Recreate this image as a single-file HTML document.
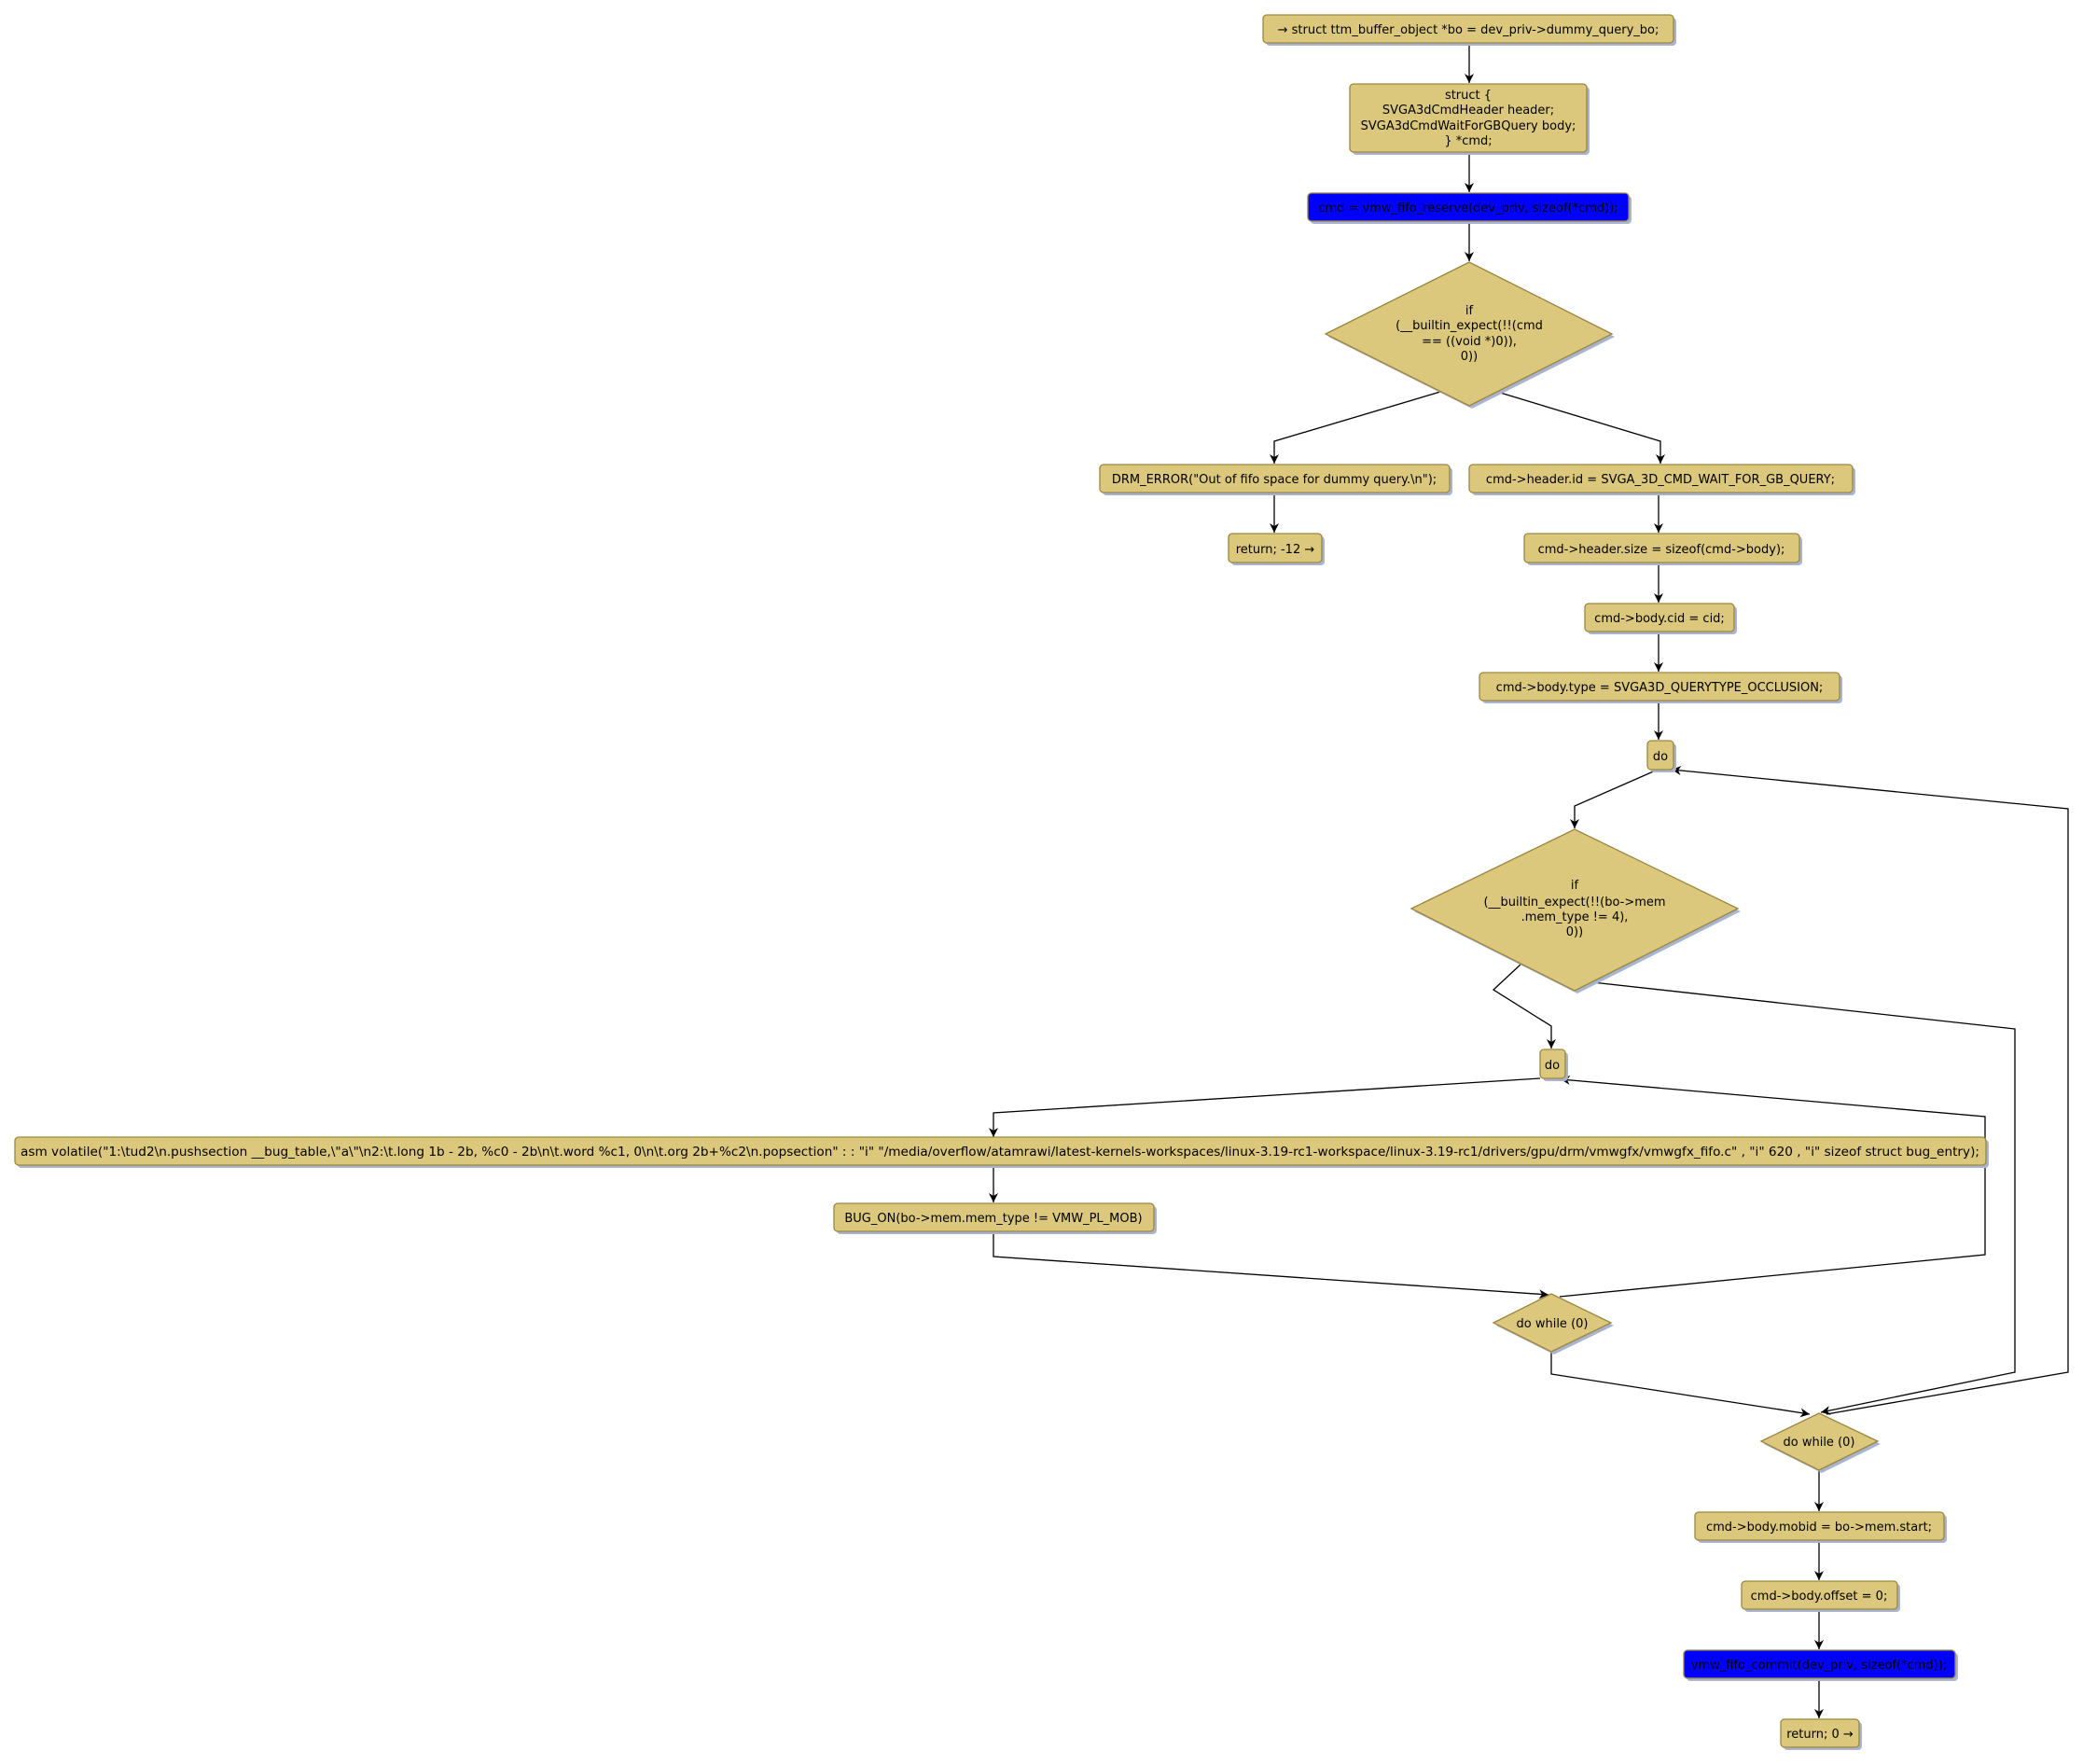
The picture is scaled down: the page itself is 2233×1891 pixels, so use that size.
<!DOCTYPE html>
<html><head><meta charset="utf-8"><style>
html,body{margin:0;padding:0;background:#fff;}
svg{display:block;}
text{font-family:"DejaVu Sans","Liberation Sans",sans-serif;font-size:13px;fill:#000;}
</style></head><body>
<svg width="2233" height="1891" viewBox="0 0 2233 1891" xmlns="http://www.w3.org/2000/svg">
<defs>
<marker id="a" markerWidth="12" markerHeight="12" refX="10" refY="5" orient="auto" markerUnits="userSpaceOnUse">
<path d="M0,0 L10,5 L0,10 L3,5 z" fill="#000"/>
</marker>
</defs>
<g fill="none" stroke="#000" stroke-width="1.3">
<path d="M1575,46 V89" marker-end="url(#a)"/>
<path d="M1575,164 V206" marker-end="url(#a)"/>
<path d="M1575,238 V280" marker-end="url(#a)"/>
<path d="M1544,420 L1366,473 V497" marker-end="url(#a)"/>
<path d="M1605,420 L1780,473 V497" marker-end="url(#a)"/>
<path d="M1366,528 V571" marker-end="url(#a)"/>
<path d="M1778,528 V571" marker-end="url(#a)"/>
<path d="M1778,603 V646" marker-end="url(#a)"/>
<path d="M1778,677 V720" marker-end="url(#a)"/>
<path d="M1778,751 V793" marker-end="url(#a)"/>
<path d="M1777,825 L1688,864 V888" marker-end="url(#a)"/>
<path d="M1958,1516 L2217,1471 V867 L1792,825" marker-end="url(#a)"/>
<path d="M1630,1034 L1601,1061 L1663,1100 V1124" marker-end="url(#a)"/>
<path d="M1707,1053 L2160,1103 V1471 L1952,1514" marker-end="url(#a)"/>
<path d="M1651,1156 L1065,1193 V1219" marker-end="url(#a)"/>
<path d="M1065,1249 V1289" marker-end="url(#a)"/>
<path d="M1065,1320 V1347 L1660,1388" marker-end="url(#a)"/>
<path d="M1672,1390 L2128,1345 V1197 L1673,1157" marker-end="url(#a)"/>
<path d="M1663,1449 V1473 L1940,1516" marker-end="url(#a)"/>
<path d="M1950,1576 V1620" marker-end="url(#a)"/>
<path d="M1950,1651 V1694" marker-end="url(#a)"/>
<path d="M1950,1725 V1768" marker-end="url(#a)"/>
<path d="M1950,1799 V1842" marker-end="url(#a)"/>
</g>
<g stroke="#9a8640" stroke-width="1.3">
<g fill="#a8b4d0" stroke="none">
<rect x="1357" y="19" width="440" height="30" rx="4"/>
<rect x="1450" y="93" width="254" height="73" rx="4"/>
<rect x="1405" y="210" width="344" height="30" rx="4"/>
<polygon points="1424,361 1578,284 1731,361 1578,438"/>
<rect x="1182" y="501" width="375" height="30" rx="4"/>
<rect x="1578" y="501" width="411" height="30" rx="4"/>
<rect x="1320" y="575" width="100" height="31" rx="4"/>
<rect x="1637" y="575" width="295" height="31" rx="4"/>
<rect x="1702" y="650" width="160" height="30" rx="4"/>
<rect x="1589" y="724" width="386" height="30" rx="4"/>
<rect x="1769" y="797" width="28" height="31" rx="4"/>
<polygon points="1516,977 1691,892 1866,977 1691,1065"/>
<rect x="1654" y="1128" width="27" height="31" rx="4"/>
<rect x="19" y="1222" width="2113" height="30" rx="4"/>
<rect x="897" y="1293" width="343" height="30" rx="4"/>
<polygon points="1604,1421 1666,1390 1730,1421 1666,1452"/>
<polygon points="1891,1548 1953,1518 2016,1548 1953,1579"/>
<rect x="1820" y="1624" width="267" height="30" rx="4"/>
<rect x="1870" y="1698" width="167" height="30" rx="4"/>
<rect x="1808" y="1772" width="291" height="30" rx="4"/>
<rect x="1912" y="1846" width="84" height="30" rx="4"/>
</g>
<g fill="#dcc87c">
<rect x="1354" y="16" width="440" height="30" rx="4"/>
<rect x="1447" y="90" width="254" height="73" rx="4"/>
<rect x="1402" y="207" width="344" height="30" rx="4" fill="#0000ff"/>
<polygon points="1421,358 1575,281 1728,358 1575,435"/>
<rect x="1179" y="498" width="375" height="30" rx="4"/>
<rect x="1575" y="498" width="411" height="30" rx="4"/>
<rect x="1317" y="572" width="100" height="31" rx="4"/>
<rect x="1634" y="572" width="295" height="31" rx="4"/>
<rect x="1699" y="647" width="160" height="30" rx="4"/>
<rect x="1586" y="721" width="386" height="30" rx="4"/>
<rect x="1766" y="794" width="28" height="31" rx="4"/>
<polygon points="1513,974 1688,889 1863,974 1688,1062"/>
<rect x="1651" y="1125" width="27" height="31" rx="4"/>
<rect x="16" y="1219" width="2113" height="30" rx="4"/>
<rect x="894" y="1290" width="343" height="30" rx="4"/>
<polygon points="1601,1418 1663,1387 1727,1418 1663,1449"/>
<polygon points="1888,1545 1950,1515 2013,1545 1950,1576"/>
<rect x="1817" y="1621" width="267" height="30" rx="4"/>
<rect x="1867" y="1695" width="167" height="30" rx="4"/>
<rect x="1805" y="1769" width="291" height="30" rx="4" fill="#0000ff"/>
<rect x="1909" y="1843" width="84" height="30" rx="4"/>
</g>
</g>
<g text-anchor="middle">
<text x="1574" y="36">→ struct ttm_buffer_object *bo = dev_priv-&gt;dummy_query_bo;</text>
<text x="1574" y="106">struct {</text>
<text x="1574" y="122">SVGA3dCmdHeader header;</text>
<text x="1574" y="139">SVGA3dCmdWaitForGBQuery body;</text>
<text x="1574" y="155">} *cmd;</text>
<text x="1574" y="227">cmd = vmw_fifo_reserve(dev_priv, sizeof(*cmd));</text>
<text x="1575" y="337">if</text>
<text x="1575" y="353">(__builtin_expect(!!(cmd</text>
<text x="1575" y="370">== ((void *)0)),</text>
<text x="1575" y="386">0))</text>
<text x="1366" y="518">DRM_ERROR("Out of fifo space for dummy query.\n");</text>
<text x="1780" y="518">cmd-&gt;header.id = SVGA_3D_CMD_WAIT_FOR_GB_QUERY;</text>
<text x="1367" y="593">return; -12 →</text>
<text x="1781" y="593">cmd-&gt;header.size = sizeof(cmd-&gt;body);</text>
<text x="1779" y="667">cmd-&gt;body.cid = cid;</text>
<text x="1779" y="741">cmd-&gt;body.type = SVGA3D_QUERYTYPE_OCCLUSION;</text>
<text x="1780" y="815">do</text>
<text x="1688" y="953">if</text>
<text x="1688" y="971">(__builtin_expect(!!(bo-&gt;mem</text>
<text x="1688" y="987">.mem_type != 4),</text>
<text x="1688" y="1003">0))</text>
<text x="1664" y="1146">do</text>
<text x="1072" y="1239" textLength="2100" lengthAdjust="spacingAndGlyphs">asm volatile("1:\tud2\n.pushsection __bug_table,\"a\"\n2:\t.long 1b - 2b, %c0 - 2b\n\t.word %c1, 0\n\t.org 2b+%c2\n.popsection" : : "i" "/media/overflow/atamrawi/latest-kernels-workspaces/linux-3.19-rc1-workspace/linux-3.19-rc1/drivers/gpu/drm/vmwgfx/vmwgfx_fifo.c" , "i" 620 , "i" sizeof struct bug_entry);</text>
<text x="1065" y="1310">BUG_ON(bo-&gt;mem.mem_type != VMW_PL_MOB)</text>
<text x="1664" y="1423">do while (0)</text>
<text x="1950" y="1550">do while (0)</text>
<text x="1950" y="1641">cmd-&gt;body.mobid = bo-&gt;mem.start;</text>
<text x="1950" y="1715">cmd-&gt;body.offset = 0;</text>
<text x="1950" y="1789">vmw_fifo_commit(dev_priv, sizeof(*cmd));</text>
<text x="1951" y="1863">return; 0 →</text>
</g>
</svg>
</body></html>
